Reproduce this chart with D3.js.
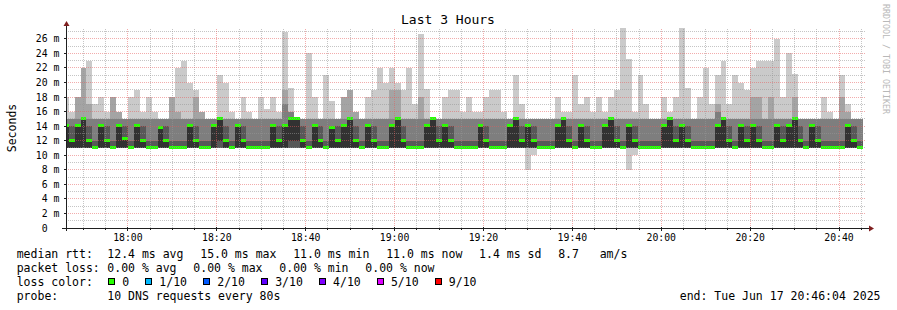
<!DOCTYPE html>
<html>
<head>
<meta charset="utf-8">
<script src="https://cdn.jsdelivr.net/npm/d3@7/dist/d3.min.js"></script>
<style>
  body { margin: 0; background: #fff; }
  svg text { font-family: "DejaVu Sans Mono", monospace; fill: #000; white-space: pre; }
</style>
</head>
<body>
<svg id="chart" width="897" height="310"></svg>
<script>
// smokeping detail graph, last 3 hours, one column per 80s probe round
// ten DNS pings per round, sorted: ping1 = fastest ... ping10 = slowest (ms)

const ping1 = [
  11,11,11,11,11,11,11,11,11,11, 11,11,11,11,11,11,11,11,11,11,
  11,11,11,11,11,11,11,11,11,11, 11,11,11,11,11,11,11,11,11,11,
  11,11,11,11,11,11,11,11,11,11, 11,11,11,11,11,11,11,11,11,11,
  11,11,11,11,11,11,11,11,11,11, 11,11,11,11,11,11,11,11,8,10,
  11,11,11,11,11,11,11,11,11,11, 11,11,11,11,11,8,10,11,11,11,
  11,11,11,11,11,11,11,11,11,11, 11,11,11,11,11,11,11,11,11,11,
  11,11,11,11,11,11,11,11,11,11, 11,11,11,11,11
];
const ping2 = [
  11,11,11,11,11,11,11,11,11,11, 11,11,11,11,11,11,11,11,11,11,
  11,11,11,11,11,11,11,11,11,11, 11,11,11,11,11,11,11,11,11,11,
  11,11,11,11,11,11,11,11,11,11, 11,11,11,11,11,11,11,11,11,11,
  11,11,11,11,11,11,11,11,11,11, 11,11,11,11,11,11,11,11,11,11,
  11,11,11,11,11,11,11,11,11,11, 11,11,11,11,11,11,11,11,11,11,
  11,11,11,11,11,11,11,11,11,11, 11,11,11,11,11,11,11,11,11,11,
  11,11,11,11,11,11,11,11,11,11, 11,11,11,11,11
];
const ping3 = ping2.slice();
const ping4 = ping2.slice();
const ping5 = [
  11,11,11,11,11,11,11,11,11,11, 11,11,11,11,11,11,11,11,11,11,
  11,11,11,11,11,11,12,11,11,11, 11,11,11,11,11,11,11,11,12,12,
  11,11,11,11,11,11,11,11,11,11, 11,11,11,11,11,11,11,11,11,11,
  11,11,11,11,11,11,11,11,11,11, 11,11,11,11,11,11,11,11,11,11,
  11,11,11,11,11,11,11,11,11,11, 11,11,11,11,11,11,11,11,11,11,
  11,11,11,11,11,11,11,11,11,11, 11,11,11,11,11,11,11,11,11,11,
  11,11,11,11,11,11,11,11,11,11, 11,11,11,11,11
];
// median rtt per round (drawn in loss colour)
const median = [
  14,12,14,15,12,11,14,12,11,14, 12.3,11,14,12,11,11,13.7,12,11,11,
  11,14,12,11,11,14,15,12,11,14, 12,11,11,11,11,14,12,14,15,15,
  12,11,14,12,11,13.7,12,14,15,12, 11,14,12,11,11,14,15,12,11,11,
  11,14,15,12,14,12,11,11,11,11, 14,12,11,11,11,14,15,12,14,12,
  11,11,11,14,15,12,11,14,12,11, 11,14,15,12,11,14,12,11,11,11,
  11,14,15,12,14,12,11,11,11,11, 14,15,12,11,14,12,14,12,11,11,
  14,12,14,15,12,11,14,12,11,11, 11,11,14,12,11
];
const ping6 = median;
const ping7 = [
  14,14,14,15,14,12,14,14,12,14, 14,12,14,14,12,12,14,14,12,12,
  12,14,14,12,12,14,15,14,12,14, 14,12,12,12,12,14,14,14,15,15,
  14,12,14,14,12,14,14,14,15,14, 12,14,14,12,12,14,15,14,12,12,
  12,14,15,14,14,14,12,12,12,12, 14,14,12,12,12,14,15,14,14,14,
  12,12,12,14,15,14,12,14,14,12, 12,14,15,14,12,14,14,12,12,12,
  12,14,15,14,14,14,12,12,12,12, 14,15,14,12,14,14,14,14,12,12,
  14,14,14,15,14,12,14,14,12,12, 12,12,14,14,12
];
const ping8 = [
  15,15,15,15,15,15,15,15,15,15, 15,15,15,15,15,15,15,15,15,15,
  15,15,15,15,15,15,15,15,15,15, 15,15,15,15,15,15,15,17,16,15,
  15,15,15,15,15,15,15,15,15,15, 15,15,15,15,15,15,15,15,15,15,
  15,15,15,15,15,15,15,15,15,15, 15,15,15,15,15,15,15,15,15,15,
  15,15,15,15,15,15,15,15,15,15, 15,15,15,15,15,15,15,15,15,15,
  15,15,15,15,15,15,15,15,15,15, 16,15,15,15,15,15,15,15,15,15,
  15,15,15,15,15,15,15,15,15,15, 15,15,15,15,15
];
const ping9 = [
  15,15,18,22,17,15,15,15,18,16, 15,15,15,15,15,15,15,15,18,16,
  15,15,18,16,15,15,15,15,15,15, 15,15,15,15,15,15,15,19,16,15,
  15,15,15,15,15,15,15,18,19,16, 15,15,15,15,15,19,19,15,15,15,
  18,15,15,15,15,15,15,15,15,15, 15,15,15,15,15,15,15,15,15,15,
  15,15,15,15,15,15,15,15,15,15, 15,15,15,15,15,15,15,15,15,15,
  15,15,15,15,15,15,15,15,15,15, 17,15,15,15,15,15,18,18,15,18,
  15,15,15,18,15,15,15,15,15,15, 15,18,16,15,15
];
const ping10 = [
  18,16,18,22,23,17,18,16,18,16, 15,18,19,16,18,16,15,15,18,22,
  23,20,19,16,15,15,21,20,16,15, 18,16,15,18,16.4,18,16,27,19.3,15,
  15,24,18,15,21,17.4,15,18,19,16, 15,18,19,22,20,22,20,19,22,17,
  26.7,19.1,15,15,18,19,19,16,18,16, 16,18,19,19,16,15,21,17,15,15,
  15,15,15,18,16,16,21,17,18,16, 18,16,18,19,27.5,23.2,16,21,17,15,
  15,18,16,18,27.5,19.3,15,18,22,17, 21,23,17,21,20,19,22,23,23,23,
  26,18,24,21.2,15,15,15,15,18,16, 15,21,17,15,15
];

const firstRound = new Date(2025, 5, 17, 17, 45, 20);
const roundSec = 80;
const graphStart = new Date(2025, 5, 17, 17, 46, 4);
const graphEnd = new Date(2025, 5, 17, 20, 46, 4);

const yTicksMajor = [0, 2, 4, 6, 8, 10, 12, 14, 16, 18, 20, 22, 24, 26];
const yTicksMinor = [1, 3, 5, 7, 9, 11, 13, 15, 17, 19, 21, 23, 25, 27];

const medianStats = ["12.4 ms avg", "15.0 ms max", "11.0 ms min", "11.0 ms now", "1.4 ms sd", "8.7   am/s"];
const lossStats = ["0.00 % avg", "0.00 % max", "0.00 % min", "0.00 % now"];
const lossLabels = ["0", "1/10", "2/10", "3/10", "4/10", "5/10", "9/10"];
const lossColors = ["#26ff00", "#00b8ff", "#0059ff", "#5e00ff", "#7e00ff", "#dd00ff", "#ff0000"];
const smokeShades = ["#cacaca", "#a4a4a4", "#7e7e7e", "#585858", "#323232"];

// ---- layout ----
const svg = d3.select("#chart");
const X0 = 66, X1 = 866, Y0 = 228, Y1 = 28;
const charW = 6.95;  // legend font advance

const x = d3.scaleTime().domain([graphStart, graphEnd]).range([X0, X1]);
const y = d3.scaleLinear().domain([0, 27.5]).range([Y0, Y1]);

svg.append("rect").attr("width", 897).attr("height", 310).attr("fill", "#fff");

svg.append("clipPath").attr("id", "plotClip")
  .append("rect").attr("x", X0).attr("y", Y1).attr("width", X1 - X0).attr("height", Y0 - Y1);

const plot = svg.append("g").attr("clip-path", "url(#plotClip)");

const roundTime = i => new Date(firstRound.getTime() + i * roundSec * 1000);

function bandPoints(lo, hi) {
  const pts = lo.map((v, i) => ({ t: roundTime(i), lo: v, hi: hi[i] }));
  const n = lo.length;
  pts.push({ t: roundTime(n), lo: lo[n - 1], hi: hi[n - 1] });
  return pts;
}

const band = d3.area()
  .curve(d3.curveStepAfter)
  .x(d => x(d.t))
  .y0(d => y(d.lo))
  .y1(d => y(d.hi));

// smoke: outer pair first, each inner pair darker on top
const ranks = [ping1, ping2, ping3, ping4, ping5, ping6, ping7, ping8, ping9, ping10];
smokeShades.forEach((shade, k) => {
  plot.append("path")
    .datum(bandPoints(ranks[k], ranks[9 - k]))
    .attr("d", band)
    .attr("fill", shade)
    .attr("shape-rendering", "crispEdges");
});

// median as a 3px band in loss colour (all rounds had 0 loss)
const medBand = d3.area()
  .curve(d3.curveStepAfter)
  .x(d => x(d.t))
  .y0(d => y(d.lo) + 1)
  .y1(d => y(d.lo) - 2);
plot.append("path")
  .datum(bandPoints(median, median))
  .attr("d", medBand)
  .attr("fill", lossColors[0])
  .attr("shape-rendering", "crispEdges");

// ---- grid on top ----
const grid = svg.append("g").attr("shape-rendering", "crispEdges").attr("stroke-dasharray", "1,1");
const px = v => Math.floor(v) + 0.5;

const minorTimes = x.ticks(d3.timeMinute.every(5)).filter(t => t.getMinutes() % 20 !== 0);
const majorTimes = x.ticks(d3.timeMinute.every(20));

grid.selectAll(".hmin").data(yTicksMinor).join("line")
  .attr("x1", X0).attr("x2", X1)
  .attr("y1", d => px(y(d))).attr("y2", d => px(y(d)))
  .attr("stroke", "rgba(150,150,150,0.55)");
grid.selectAll(".vmin").data(minorTimes).join("line")
  .attr("y1", Y0).attr("y2", Y1)
  .attr("x1", d => px(x(d))).attr("x2", d => px(x(d)))
  .attr("stroke", "rgba(150,150,150,0.55)");
grid.selectAll(".hmaj").data(yTicksMajor.filter(v => v > 0)).join("line")
  .attr("x1", X0).attr("x2", X1)
  .attr("y1", d => px(y(d))).attr("y2", d => px(y(d)))
  .attr("stroke", "rgba(230,90,90,0.5)");
grid.selectAll(".vmaj").data(majorTimes).join("line")
  .attr("y1", Y0).attr("y2", Y1)
  .attr("x1", d => px(x(d))).attr("x2", d => px(x(d)))
  .attr("stroke", "rgba(230,90,90,0.5)");

// ---- axes ----
const axisCol = "#1f1f1f", arrowCol = "#7f1f1f";
const ax = svg.append("g").attr("shape-rendering", "crispEdges");
ax.append("line").attr("x1", X0 - 4).attr("x2", X1 + 3).attr("y1", Y0 + 0.5).attr("y2", Y0 + 0.5).attr("stroke", axisCol);
ax.append("line").attr("x1", X0 + 0.5).attr("x2", X0 + 0.5).attr("y1", Y0 + 3).attr("y2", Y1 - 3).attr("stroke", axisCol);
svg.append("path").attr("d", `M${X1 + 3},${Y0 - 2.5}L${X1 + 8},${Y0 + 0.5}L${X1 + 3},${Y0 + 3.5}Z`).attr("fill", arrowCol);
svg.append("path").attr("d", `M${X0 - 2.5},${Y1 - 2}L${X0 + 0.5},${Y1 - 7}L${X0 + 3.5},${Y1 - 2}Z`).attr("fill", arrowCol);

ax.selectAll(".yt").data(yTicksMajor.filter(v => v > 0)).join("line")
  .attr("x1", X0 - 2).attr("x2", X0 + 1)
  .attr("y1", d => px(y(d))).attr("y2", d => px(y(d)))
  .attr("stroke", axisCol);
ax.selectAll(".xt").data(majorTimes).join("line")
  .attr("x1", d => px(x(d))).attr("x2", d => px(x(d)))
  .attr("y1", Y0 - 1).attr("y2", Y0 + 3)
  .attr("stroke", axisCol);
ax.selectAll(".xtm").data(minorTimes).join("line")
  .attr("x1", d => px(x(d))).attr("x2", d => px(x(d)))
  .attr("y1", Y0).attr("y2", Y0 + 2)
  .attr("stroke", axisCol);

// y labels: number right aligned, unit column
const yl = svg.append("g").style("font-size", "9.8px");
yl.selectAll(".yn").data(yTicksMajor).join("text")
  .attr("x", 47.6).attr("y", d => px(y(d)) + 3.5)
  .attr("text-anchor", "end")
  .text(d => d);
yl.selectAll(".yu").data(yTicksMajor.filter(v => v > 0)).join("text")
  .attr("x", 53.5).attr("y", d => px(y(d)) + 3.5)
  .text("m");

const fmt = d3.timeFormat("%H:%M");
svg.append("g").style("font-size", "9.8px")
  .selectAll("text").data(majorTimes).join("text")
  .attr("x", d => x(d)).attr("y", 241)
  .attr("text-anchor", "middle")
  .text(d => fmt(d));

// titles
svg.append("text").attr("x", 448).attr("y", 24).attr("text-anchor", "middle")
  .style("font-size", "13px").text("Last 3 Hours");
svg.append("text").attr("transform", "translate(15.5,128) rotate(-90)")
  .attr("text-anchor", "middle").style("font-size", "11.5px").text("Seconds");
svg.append("text").attr("transform", "translate(883,4) rotate(90)")
  .style("font-size", "8.3px").style("fill", "#b8b8b8").text("RRDTOOL / TOBI OETIKER");

// ---- legend ----
const leg = svg.append("g").style("font-size", "11.5px");
const col0 = 16.7, col1 = 107.3, gap = 16.5;
const rows = [257.5, 271.8, 286, 300.3];

function statRow(label, items, yy) {
  leg.append("text").attr("x", col0).attr("y", yy).text(label);
  let cx = col1;
  items.forEach(s => {
    leg.append("text").attr("x", cx).attr("y", yy).text(s);
    cx += s.length * charW + gap;
  });
}
statRow("median rtt:", medianStats, rows[0]);
statRow("packet loss:", lossStats, rows[1]);

leg.append("text").attr("x", col0).attr("y", rows[2]).text("loss color:");
let cx = col1 + 1;
lossLabels.forEach((lab, i) => {
  leg.append("rect").attr("x", cx + 0.5).attr("y", rows[2] - 7.5).attr("width", 6).attr("height", 6)
    .attr("fill", lossColors[i]).attr("stroke", "#000").attr("stroke-width", 1)
    .attr("shape-rendering", "crispEdges");
  leg.append("text").attr("x", cx + 14).attr("y", rows[2]).text(lab);
  cx += 14 + lab.length * charW + 16.1;
});

leg.append("text").attr("x", col0).attr("y", rows[3]).text("probe:");
leg.append("text").attr("x", col1).attr("y", rows[3]).text("10 DNS requests every 80s");
leg.append("text").attr("x", 880.5).attr("y", rows[3]).attr("text-anchor", "end")
  .text("end: Tue Jun 17 20:46:04 2025");
</script>
</body>
</html>
